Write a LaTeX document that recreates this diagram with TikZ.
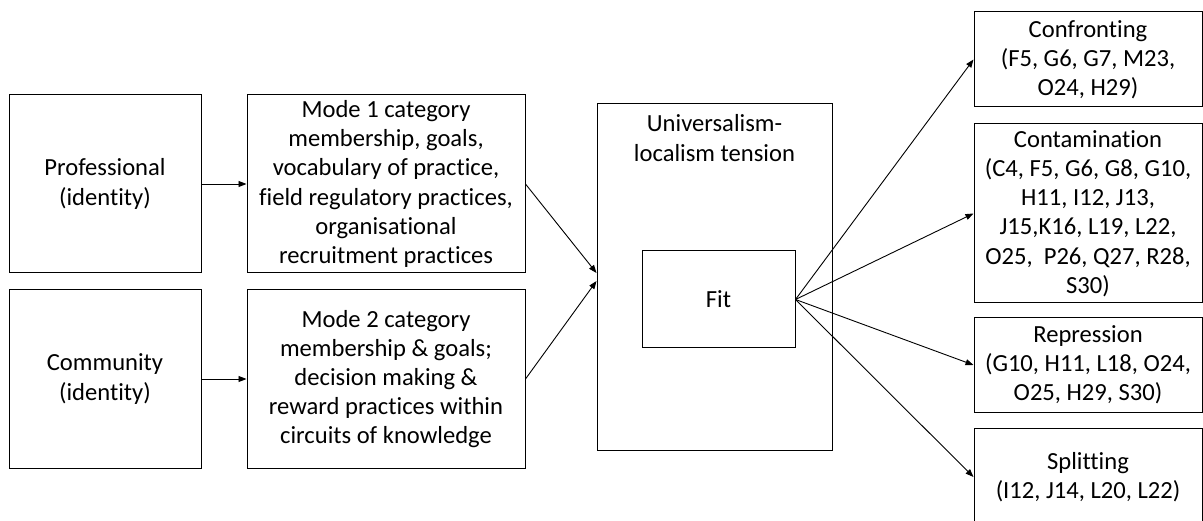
\documentclass[tikz,border=0pt]{standalone}
\usepackage{fontspec}
\setmainfont[Ligatures={NoCommon,NoRare},Contextuals=NoAlternate,RawFeature={-liga,-clig,-calt,-dlig}]{Carlito}
\usetikzlibrary{arrows.meta}
\begin{document}
\begin{tikzpicture}[x=1pt,y=-1pt,
  box/.style={draw=black,line width=1pt,rectangle,inner sep=0pt,align=center,
    font=\fontsize{24.6}{29.2}\selectfont},
  link/.style={line width=0.9pt,-{Triangle[length=8pt,width=6pt]}}]
\useasboundingbox (0,0) rectangle (1203,521);

% left column: identities
\node[box,minimum width=192pt,minimum height=178pt] (prof) at (105,184) {Professional\\(identity)};
\node[box,minimum width=192pt,minimum height=178pt] (comm) at (105,379) {Community\\(identity)};

% modes
\node[box,minimum width=278pt,minimum height=178pt] (mode1) at (386,184)
  {Mode 1 category\\membership, goals,\\vocabulary of practice,\\field regulatory practices,\\organisational\\recruitment practices};
\node[box,minimum width=278pt,minimum height=178pt] (mode2) at (386,379)
  {Mode 2 category\\membership \& goals;\\decision making \&\\reward practices within\\circuits of knowledge};

% tension box with the fit box inside
\node[box,minimum width=235pt,minimum height=346pt] (uni) at (714.5,277) {};
\node[box,draw=none] (unilabel) at (714.5,138) {Universalism-\\localism tension};
\node[box,minimum width=153pt,minimum height=97pt] (fit) at (718.5,299.5) {Fit};

% outcomes
\node[box,minimum width=228pt,minimum height=95pt] (conf) at (1088,59.5)
  {Confronting\\(F5, G6, G7, M23,\\O24, H29)};
\node[box,minimum width=228pt,minimum height=179pt] (cont) at (1088,213.5)
  {Contamination\\(C4, F5, G6, G8, G10,\\H11, I12, J13,\\J15,K16, L19, L22,\\O25,\ \ P26, Q27, R28,\\S30)};
\node[box,minimum width=228pt,minimum height=95pt] (rep) at (1088,365)
  {Repression\\(G10, H11, L18, O24,\\O25, H29, S30)};
\node[box,minimum width=228pt,minimum height=96pt] (split) at (1088,477)
  {Splitting\\(I12, J14, L20, L22)};

% connectors
\draw[link] (prof.east) -- (mode1.west);
\draw[link] (comm.east) -- (mode2.west);
\draw[link] (mode1.east) -- ([yshift=4pt]uni.west);
\draw[link] (mode2.east) -- ([yshift=-4pt]uni.west);
\draw[link] (fit.east) -- (conf.west);
\draw[link] (fit.east) -- (cont.west);
\draw[link] (fit.east) -- (rep.west);
\draw[link] (fit.east) -- (split.west);
\end{tikzpicture}
\end{document}
